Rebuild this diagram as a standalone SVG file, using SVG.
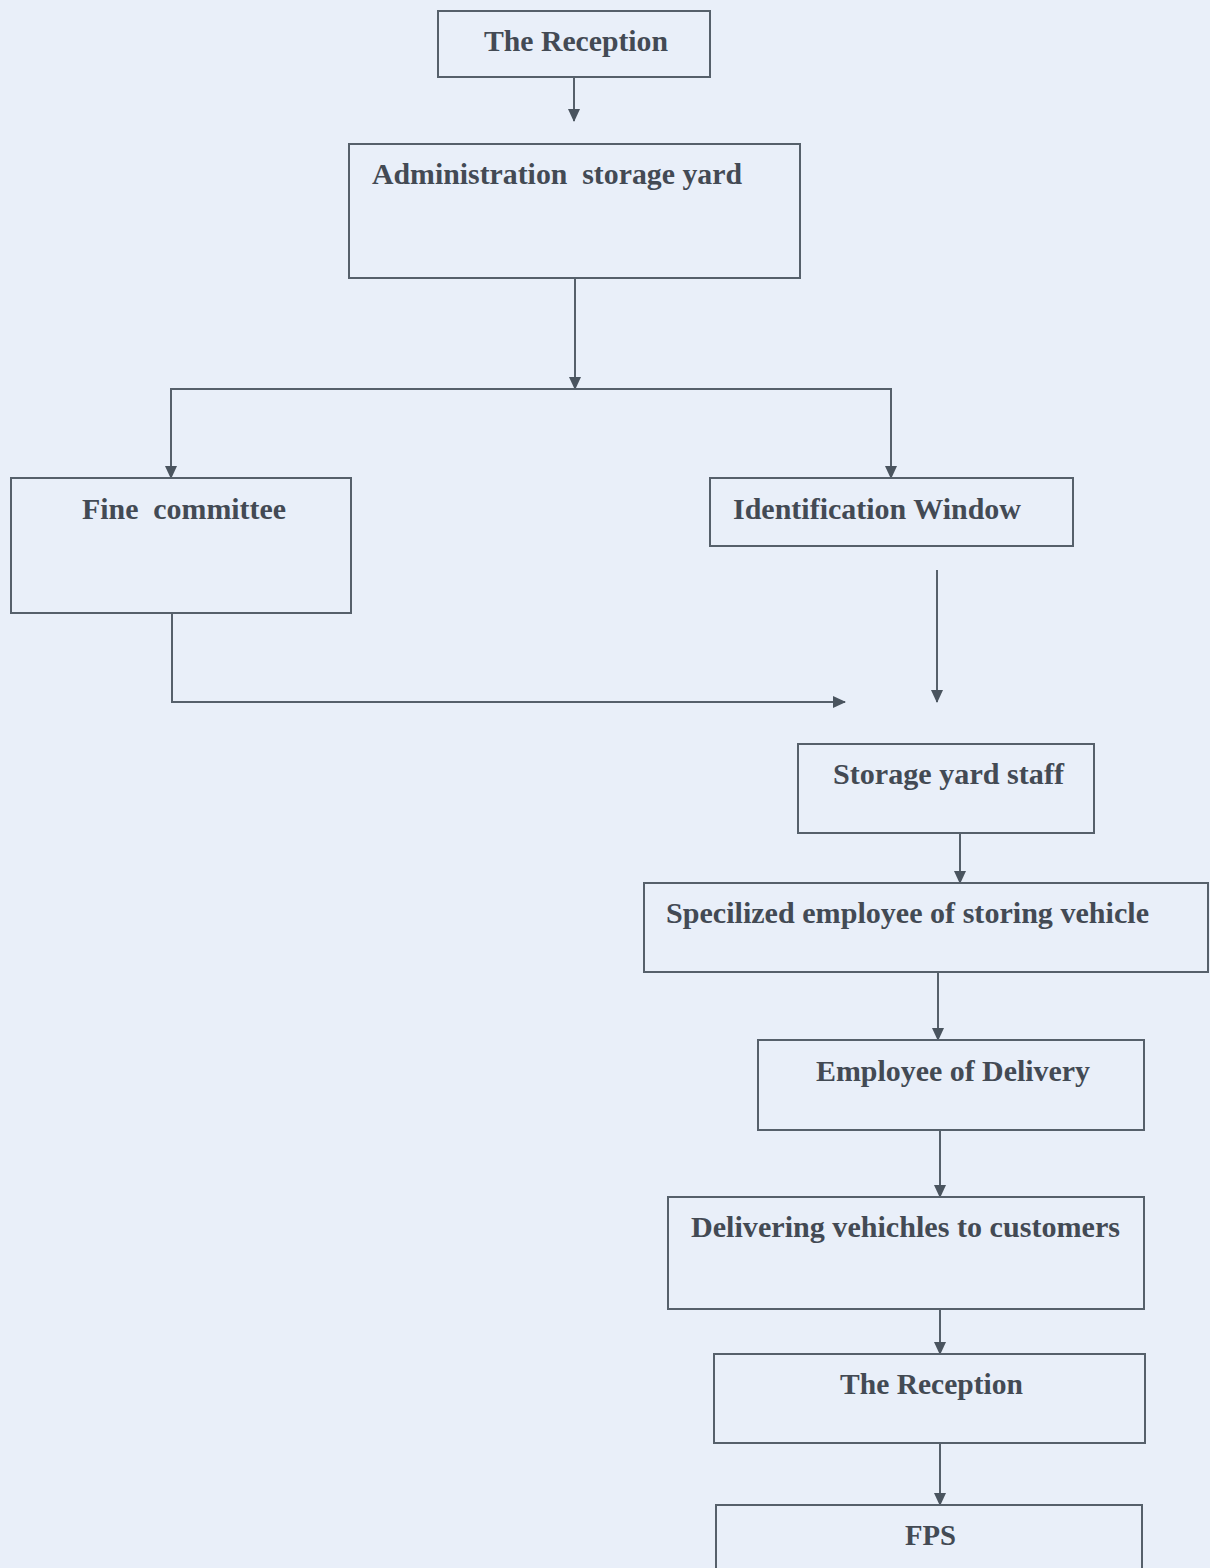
<svg xmlns="http://www.w3.org/2000/svg" width="1210" height="1568" viewBox="0 0 1210 1568">
<style>
.box{fill:none;stroke:#56606b;stroke-width:2}
.t{font-family:"Liberation Serif","Times New Roman",serif;font-weight:bold;font-size:29px;fill:#434a54}
.c{fill:none;stroke:#56606b;stroke-width:2}
</style>
<defs>
<marker id="ah" markerWidth="13" markerHeight="12" refX="12" refY="6" orient="auto" markerUnits="userSpaceOnUse">
<path d="M0,0 L13,6 L0,12 Z" fill="#4a545f"/>
</marker>
</defs>
<rect width="1210" height="1568" fill="#e9eff9"/>
<g id="connectors">
<line class="c" x1="574" y1="77" x2="574" y2="121" marker-end="url(#ah)"/>
<line class="c" x1="575" y1="278" x2="575" y2="389" marker-end="url(#ah)"/>
<polyline class="c" points="171,478 171,389 891,389 891,478"/>
<line class="c" x1="171" y1="460" x2="171" y2="478" marker-end="url(#ah)"/>
<line class="c" x1="891" y1="460" x2="891" y2="478" marker-end="url(#ah)"/>
<line class="c" x1="937" y1="570" x2="937" y2="702" marker-end="url(#ah)"/>
<polyline class="c" points="172,613 172,702 845,702" marker-end="url(#ah)"/>
<line class="c" x1="960" y1="833" x2="960" y2="883" marker-end="url(#ah)"/>
<line class="c" x1="938" y1="972" x2="938" y2="1040" marker-end="url(#ah)"/>
<line class="c" x1="940" y1="1130" x2="940" y2="1197" marker-end="url(#ah)"/>
<line class="c" x1="940" y1="1309" x2="940" y2="1354" marker-end="url(#ah)"/>
<line class="c" x1="940" y1="1443" x2="940" y2="1505" marker-end="url(#ah)"/>
</g>
<g id="reception1"><rect class="box" x="438" y="11" width="272" height="66"/><text class="t" x="484" y="51" textLength="184" lengthAdjust="spacingAndGlyphs">The Reception</text></g>
<g id="admin"><rect class="box" x="349" y="144" width="451" height="134"/><text class="t" x="372" y="184" xml:space="preserve" textLength="370" lengthAdjust="spacingAndGlyphs">Administration  storage yard</text></g>
<g id="fine"><rect class="box" x="11" y="478" width="340" height="135"/><text class="t" x="82" y="519" xml:space="preserve" textLength="204" lengthAdjust="spacingAndGlyphs">Fine  committee</text></g>
<g id="ident"><rect class="box" x="710" y="478" width="363" height="68"/><text class="t" x="733" y="519" textLength="288" lengthAdjust="spacingAndGlyphs">Identification Window</text></g>
<g id="staff"><rect class="box" x="798" y="744" width="296" height="89"/><text class="t" x="833" y="784" textLength="231" lengthAdjust="spacingAndGlyphs">Storage yard staff</text></g>
<g id="special"><rect class="box" x="644" y="883" width="564" height="89"/><text class="t" x="666" y="923" textLength="483" lengthAdjust="spacingAndGlyphs">Specilized employee of storing vehicle</text></g>
<g id="delivery"><rect class="box" x="758" y="1040" width="386" height="90"/><text class="t" x="816" y="1081" textLength="274" lengthAdjust="spacingAndGlyphs">Employee of Delivery</text></g>
<g id="delivering"><rect class="box" x="668" y="1197" width="476" height="112"/><text class="t" x="691" y="1237" textLength="429" lengthAdjust="spacingAndGlyphs">Delivering vehichles to customers</text></g>
<g id="reception2"><rect class="box" x="714" y="1354" width="431" height="89"/><text class="t" x="840" y="1394" textLength="183" lengthAdjust="spacingAndGlyphs">The Reception</text></g>
<g id="fps"><rect class="box" x="716" y="1505" width="426" height="80"/><text class="t" x="905" y="1545" textLength="51" lengthAdjust="spacingAndGlyphs">FPS</text></g>
</svg>
